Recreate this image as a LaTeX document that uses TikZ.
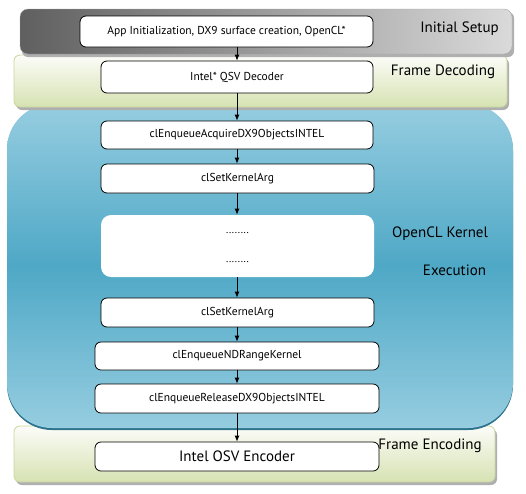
\documentclass[tikz,border=0pt]{standalone}
\usepackage{fontspec}
\setmainfont{PT Sans}
\usetikzlibrary{arrows.meta}
\definecolor{bluetop}{RGB}{150,205,224}
\definecolor{bluemid}{RGB}{78,168,198}
\definecolor{blueedge}{RGB}{45,115,140}
\definecolor{greenbot}{RGB}{214,226,178}
\definecolor{greentop}{RGB}{252,252,248}
\definecolor{greenedge}{RGB}{200,214,160}
\definecolor{graydark}{RGB}{95,95,95}
\definecolor{graylight}{RGB}{218,218,218}
\definecolor{shadowc}{RGB}{175,175,175}
\begin{document}
\begin{tikzpicture}[x=1pt,y=-1pt,
  box/.style={draw=black, fill=white, rounded corners=6pt, line width=0.8pt,
    font=\fontsize{11.5}{13}\selectfont, inner sep=0pt},
  arr/.style={-{Latex[length=6pt,width=5pt]}, line width=0.8pt},
  lab/.style={font=\fontsize{15}{17}\selectfont, inner sep=0pt},
  dots/.style={font=\fontsize{10.5}{12}\selectfont, inner sep=0pt},
  greenband/.style={rounded corners=6pt, top color=greentop, bottom color=greenbot, draw=greenedge, line width=0.8pt}]
\useasboundingbox (0,0) rectangle (526,493);
% Frame Encoding band
\fill[shadowc, rounded corners=6pt] (16,429) rectangle (497,485);
\shade[greenband] (14,426) rectangle (495,482);
% OpenCL kernel execution region
\fill[blueedge, rounded corners=45pt] (7,106) rectangle (513,430);
\shade[rounded corners=45pt, top color=bluetop, bottom color=bluetop, middle color=bluemid]
  (7,104) rectangle (513,428);
% Frame Decoding band
\fill[shadowc, rounded corners=6pt] (16,58) rectangle (509,110);
\shade[greenband] (14,55) rectangle (507,107);
% Initial Setup band
\fill[shadowc, rounded corners=6pt] (22,12) rectangle (514,57);
\shade[rounded corners=8pt, left color=graydark, right color=graylight, draw=gray!70]
  (20,9) rectangle (512,54);

% labels
\node[lab] (l1) at (459.5,29) {Initial Setup};
\node[lab] (l2) at (443,72) {Frame Decoding};
\node[lab] (l3) at (440,234) {OpenCL Kernel};
\node[lab] (l4) at (454.5,270) {Execution};
\node[lab] (l5) at (430,446) {Frame Encoding};

% boxes
\node[box, minimum width=293pt, minimum height=31pt] (n1) at (226.5,31.5) {App Initialization, DX9 surface creation, OpenCL*};
\node[box, minimum width=272pt, minimum height=32pt] (n2) at (237,77) {Intel* QSV Decoder};
\node[box, minimum width=272pt, minimum height=28pt] (n3) at (237,135) {clEnqueueAcquireDX9ObjectsINTEL};
\node[box, minimum width=273pt, minimum height=29pt] (n4) at (237.5,178.5) {clSetKernelArg};
\node[box, draw=none, rounded corners=10pt, minimum width=273pt, minimum height=62pt] (n5) at (237.5,246) {};
\node[dots] (d1) at (237.5,233) {........};
\node[dots] (d2) at (237.5,262) {........};
\node[box, minimum width=273pt, minimum height=29pt] (n6) at (237.5,312.5) {clSetKernelArg};
\node[box, minimum width=284pt, minimum height=28pt] (n7) at (237,356) {clEnqueueNDRangeKernel};
\node[box, minimum width=284pt, minimum height=29pt] (n8) at (237,398.5) {clEnqueueReleaseDX9ObjectsINTEL};
\node[box, minimum width=284pt, minimum height=29pt, font=\fontsize{15}{17}\selectfont] (n9) at (237,456.5) {Intel OSV Encoder};

% arrows
\draw[arr] (n1.south -| n2.north) -- (n2.north);
\draw[arr] (n2.south) -- (n3.north -| n2.south);
\draw[arr] (n3.south) -- (n4.north -| n3.south);
\draw[arr] (n4.south -| n3.south) -- (n5.north -| n3.south);
\draw[arr] (n5.south -| n3.south) -- (n6.north -| n3.south);
\draw[arr] (n6.south -| n3.south) -- (n7.north -| n3.south);
\draw[arr] (n7.south -| n3.south) -- (n8.north -| n3.south);
\draw[arr] (n8.south -| n3.south) -- (n9.north -| n3.south);
\end{tikzpicture}
\end{document}
